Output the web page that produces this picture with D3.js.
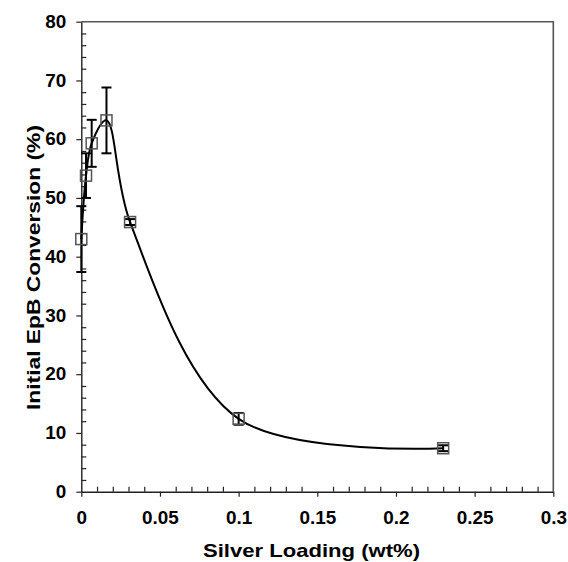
<!DOCTYPE html>
<html><head><meta charset="utf-8">
<script src="https://cdn.jsdelivr.net/npm/d3@7"></script>
<style>body{margin:0;background:#fff}svg{display:block}text{font-family:Arial,"Liberation Sans",sans-serif;font-weight:bold;fill:#000}</style>
</head><body>
<script>
const loading = [0, 0.003, 0.0066, 0.016, 0.031, 0.1, 0.23];
const conversion = [43.0, 53.8, 59.3, 63.2, 45.9, 12.4, 7.4];
const errors = [5.6, 3.8, 4.0, 5.6, 0.5, 1.0, 0.5];
const xTicks = [0, 0.05, 0.1, 0.15, 0.2, 0.25, 0.3];
const xTickLabels = ["0", "0.05", "0.1", "0.15", "0.2", "0.25", "0.3"];
const yTicks = [0, 10, 20, 30, 40, 50, 60, 70, 80];
const xTitle = "Silver Loading (wt%)";
const yTitle = "Initial EpB Conversion (%)";

const W = 568, H = 562;
const L = 81.3, R = 553.3, T = 21.7, B = 491.7;
const svg = d3.select("body").append("svg").attr("width", W).attr("height", H);
const x = d3.scaleLinear().domain([0, 0.3]).range([L, R]);
const y = d3.scaleLinear().domain([0, 80]).range([B, T]);

// frame (top/right)
svg.append("path").attr("d", `M${L},${T}H${R}V${B}`).attr("fill", "none").attr("stroke", "#555").attr("stroke-width", 1.6);

// minor ticks (inward)
const yMinor = d3.range(0, 81, 2).filter(v => v % 10 !== 0);
svg.append("g").attr("transform", `translate(${L},0)`).call(d3.axisRight(y).tickValues(yMinor).tickSize(5).tickFormat(""))
  .call(g => g.select(".domain").remove());
const xMinor = d3.range(0, 31).map(v => v / 100).filter((v, i) => i % 5 !== 0);
svg.append("g").attr("transform", `translate(0,${B})`).call(d3.axisTop(x).tickValues(xMinor).tickSize(5).tickFormat(""))
  .call(g => g.select(".domain").remove());

// major axes
const yAxis = svg.append("g").attr("transform", `translate(${L},0)`)
  .call(d3.axisLeft(y).tickValues(yTicks).tickSize(5).tickSizeOuter(0).tickPadding(10).tickFormat(d3.format("d")));
const xAxis = svg.append("g").attr("transform", `translate(0,${B})`)
  .call(d3.axisBottom(x).tickValues(xTicks).tickSize(5).tickSizeOuter(0).tickPadding(15).tickFormat((d, i) => xTickLabels[i]));
[yAxis, xAxis].forEach(g => {
  g.selectAll("text").style("font-size", "17.5px").style("font-weight", "bold").attr("fill", "#000")
   .style("font-family", "Arial, 'Liberation Sans', sans-serif");
  g.select(".domain").attr("stroke", "#222").attr("stroke-width", 1.4);
});
svg.selectAll(".tick line").attr("stroke", "#222").attr("stroke-width", 1.2);
// slight horizontal stretch of tick labels like the reference
xAxis.selectAll("text").each(function () {
  const t = d3.select(this);
  t.attr("textLength", this.getComputedTextLength() * 1.08).attr("lengthAdjust", "spacingAndGlyphs");
});
yAxis.selectAll("text").each(function () {
  const t = d3.select(this);
  t.attr("textLength", this.getComputedTextLength() * 1.08).attr("lengthAdjust", "spacingAndGlyphs");
});

// curve
const pts = loading.map((v, i) => [v, conversion[i]]);
svg.append("path").datum(pts)
  .attr("d", d3.line().x(d => x(d[0])).y(d => y(d[1])).curve(d3.curveCatmullRom.alpha(0.5)))
  .attr("fill", "none").attr("stroke", "#000").attr("stroke-width", 2);

// error bars
const eb = svg.append("g").attr("stroke", "#000").attr("stroke-width", 2);
loading.forEach((v, i) => {
  const cx = x(v), y0 = y(conversion[i] - errors[i]), y1 = y(conversion[i] + errors[i]);
  eb.append("line").attr("x1", cx).attr("x2", cx).attr("y1", y0).attr("y2", y1);
  eb.append("line").attr("x1", cx - 5).attr("x2", cx + 5).attr("y1", y0).attr("y2", y0);
  eb.append("line").attr("x1", cx - 5).attr("x2", cx + 5).attr("y1", y1).attr("y2", y1);
});

// markers
svg.append("g").selectAll("rect").data(pts).join("rect")
  .attr("x", d => x(d[0]) - 5.5).attr("y", d => y(d[1]) - 5.5).attr("width", 11).attr("height", 11)
  .attr("fill", "none").attr("stroke", "#555").attr("stroke-width", 1.5);

// titles
svg.append("text").attr("x", 311.5).attr("y", 557).attr("text-anchor", "middle").style("font-size", "18.5px")
  .attr("textLength", 217).attr("lengthAdjust", "spacingAndGlyphs").text(xTitle);
svg.append("text").attr("transform", "translate(40,267.5) rotate(-90)").attr("text-anchor", "middle").style("font-size", "18.5px")
  .attr("textLength", 285).attr("lengthAdjust", "spacingAndGlyphs").text(yTitle);
</script>
</body></html>
